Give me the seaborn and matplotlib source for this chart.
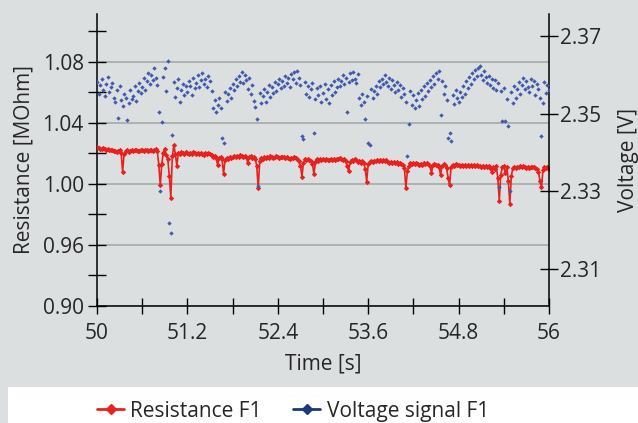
"""
Resistance and voltage signal of sensor F1 over a 6 s window.
"""

import numpy as np
import matplotlib
matplotlib.use("Agg")
import matplotlib.pyplot as plt
from matplotlib.lines import Line2D
from matplotlib.patches import Rectangle
import seaborn as sns

resistance_f1 = [
    1.0240, 1.0236, 1.0231, 1.0228, 1.0233, 1.0229, 1.0222, 1.0226, 1.0219, 1.0224,
    1.0221, 1.0214, 1.0218, 1.0210, 1.0215, 1.0222, 1.0205, 1.0080, 1.0198, 1.0216,
    1.0219, 1.0212, 1.0217, 1.0222, 1.0215, 1.0220, 1.0224, 1.0218, 1.0213, 1.0219,
    1.0222, 1.0217, 1.0225, 1.0219, 1.0214, 1.0220, 1.0223, 1.0216, 1.0221, 1.0226,
    1.0218, 1.0125, 0.9990, 1.0132, 1.0205, 1.0230, 1.0190, 1.0160, 1.0050, 0.9910,
    1.0180, 1.0255, 1.0195, 1.0120, 1.0205, 1.0198, 1.0210, 1.0203, 1.0196, 1.0207,
    1.0201, 1.0194, 1.0203, 1.0198, 1.0206, 1.0200, 1.0193, 1.0201, 1.0197, 1.0204,
    1.0199, 1.0192, 1.0201, 1.0196, 1.0203, 1.0198, 1.0190, 1.0178, 1.0185, 1.0172,
    1.0127, 1.0168, 1.0175, 1.0162, 1.0066, 1.0158, 1.0170, 1.0166, 1.0175, 1.0169,
    1.0177, 1.0181, 1.0174, 1.0183, 1.0178, 1.0186, 1.0180, 1.0175, 1.0184, 1.0179,
    1.0140, 1.0176, 1.0182, 1.0171, 1.0178, 1.0163, 1.0120, 0.9970, 1.0150, 1.0172,
    1.0165, 1.0174, 1.0168, 1.0177, 1.0171, 1.0180, 1.0174, 1.0168, 1.0176, 1.0181,
    1.0175, 1.0170, 1.0178, 1.0173, 1.0179, 1.0168, 1.0175, 1.0171, 1.0164, 1.0172,
    1.0167, 1.0174, 1.0169, 1.0160, 1.0148, 1.0120, 1.0046, 1.0135, 1.0162, 1.0155,
    1.0164, 1.0158, 1.0150, 1.0130, 1.0064, 1.0145, 1.0160, 1.0153, 1.0161, 1.0156,
    1.0163, 1.0157, 1.0165, 1.0159, 1.0154, 1.0162, 1.0156, 1.0164, 1.0158, 1.0166,
    1.0160, 1.0167, 1.0161, 1.0155, 1.0163, 1.0149, 1.0120, 1.0083, 1.0142, 1.0158,
    1.0152, 1.0160, 1.0154, 1.0146, 1.0152, 1.0140, 1.0147, 1.0135, 1.0100, 1.0015,
    1.0130, 1.0145, 1.0151, 1.0144, 1.0153, 1.0147, 1.0155, 1.0149, 1.0157, 1.0150,
    1.0156, 1.0148, 1.0154, 1.0146, 1.0139, 1.0145, 1.0137, 1.0143, 1.0135, 1.0141,
    1.0133, 1.0140, 1.0131, 1.0125, 1.0105, 0.9974, 1.0083, 1.0120, 1.0134, 1.0128,
    1.0135, 1.0129, 1.0137, 1.0131, 1.0126, 1.0133, 1.0127, 1.0134, 1.0129, 1.0136,
    1.0130, 1.0118, 1.0070, 1.0125, 1.0132, 1.0127, 1.0122, 1.0110, 1.0060, 1.0118,
    1.0128, 1.0121, 1.0105, 1.0040, 0.9990, 1.0110, 1.0126, 1.0120, 1.0128, 1.0122,
    1.0127, 1.0120, 1.0126, 1.0119, 1.0125, 1.0118, 1.0124, 1.0117, 1.0123, 1.0116,
    1.0122, 1.0115, 1.0121, 1.0114, 1.0120, 1.0113, 1.0119, 1.0112, 1.0118, 1.0111,
    1.0117, 1.0105, 1.0080, 1.0112, 1.0095, 1.0115, 1.0040, 0.9890, 1.0060, 1.0108,
    1.0114, 1.0070, 1.0110, 1.0020, 0.9870, 1.0050, 1.0105, 1.0112, 1.0106, 1.0113,
    1.0108, 1.0114, 1.0109, 1.0115, 1.0110, 1.0105, 1.0112, 1.0107, 1.0113, 1.0108,
    1.0113, 1.0107, 1.0100, 1.0080, 1.0020, 0.9978, 1.0090, 1.0110, 1.0104, 1.0111,
    1.0098,
]

voltage_f1 = [
    2.3582, 2.3549, 2.3573, 2.3588, 2.3561, 2.3545, 2.3577, 2.3593, 2.3556, 2.3568,
    2.3578, 2.3541, 2.3529, 2.3560, 2.3489, 2.3572, 2.3534, 2.3519, 2.3551, 2.3540,
    2.3483, 2.3527, 2.3561, 2.3538, 2.3546, 2.3570, 2.3531, 2.3559, 2.3578, 2.3552,
    2.3569, 2.3591, 2.3560, 2.3583, 2.3604, 2.3575, 2.3598, 2.3585, 2.3616, 2.3592,
    2.3573, 2.3505, 2.3301, 2.3479, 2.3595, 2.3616, 2.3558, 2.3634, 2.3218, 2.3194,
    2.3444, 2.3581, 2.3542, 2.3566, 2.3589, 2.3530, 2.3561, 2.3575, 2.3547, 2.3570,
    2.3556, 2.3584, 2.3571, 2.3548, 2.3592, 2.3565, 2.3579, 2.3599, 2.3569, 2.3587,
    2.3603, 2.3576, 2.3590, 2.3568, 2.3597, 2.3584, 2.3559, 2.3513, 2.3535, 2.3504,
    2.3522, 2.3539, 2.3515, 2.3436, 2.3423, 2.3556, 2.3531, 2.3549, 2.3566, 2.3541,
    2.3575, 2.3560, 2.3589, 2.3571, 2.3596, 2.3580, 2.3608, 2.3578, 2.3599, 2.3586,
    2.3562, 2.3591, 2.3550, 2.3574, 2.3533, 2.3518, 2.3487, 2.3313, 2.3552, 2.3526,
    2.3545, 2.3563, 2.3530, 2.3556, 2.3574, 2.3543, 2.3568, 2.3552, 2.3581, 2.3559,
    2.3575, 2.3590, 2.3566, 2.3584, 2.3571, 2.3597, 2.3578, 2.3592, 2.3569, 2.3601,
    2.3588, 2.3606, 2.3579, 2.3610, 2.3592, 2.3574, 2.3441, 2.3434, 2.3581, 2.3549,
    2.3570, 2.3543, 2.3562, 2.3578, 2.3449, 2.3537, 2.3566, 2.3548, 2.3571, 2.3529,
    2.3552, 2.3577, 2.3538, 2.3563, 2.3526, 2.3574, 2.3547, 2.3583, 2.3556, 2.3569,
    2.3590, 2.3571, 2.3583, 2.3598, 2.3576, 2.3592, 2.3504, 2.3581, 2.3603, 2.3587,
    2.3608, 2.3590, 2.3579, 2.3601, 2.3541, 2.3522, 2.3550, 2.3529, 2.3487, 2.3544,
    2.3425, 2.3418, 2.3563, 2.3540, 2.3557, 2.3572, 2.3551, 2.3583, 2.3569, 2.3590,
    2.3577, 2.3598, 2.3582, 2.3570, 2.3591, 2.3563, 2.3586, 2.3574, 2.3555, 2.3580,
    2.3560, 2.3573, 2.3542, 2.3566, 2.3551, 2.3529, 2.3390, 2.3474, 2.3558, 2.3523,
    2.3547, 2.3515, 2.3534, 2.3552, 2.3520, 2.3561, 2.3538, 2.3570, 2.3546, 2.3579,
    2.3558, 2.3585, 2.3567, 2.3596, 2.3577, 2.3604, 2.3588, 2.3610, 2.3497, 2.3583,
    2.3551, 2.3572, 2.3535, 2.3437, 2.3450, 2.3429, 2.3548, 2.3525, 2.3561, 2.3540,
    2.3529, 2.3555, 2.3543, 2.3571, 2.3550, 2.3583, 2.3566, 2.3595, 2.3575, 2.3604,
    2.3589, 2.3612, 2.3596, 2.3618, 2.3621, 2.3600, 2.3585, 2.3609, 2.3593, 2.3578,
    2.3597, 2.3574, 2.3590, 2.3566, 2.3585, 2.3561, 2.3579, 2.3312, 2.3558, 2.3480,
    2.3565, 2.3480, 2.3537, 2.3469, 2.3300, 2.3556, 2.3528, 2.3570, 2.3541, 2.3563,
    2.3582, 2.3550, 2.3574, 2.3591, 2.3562, 2.3583, 2.3568, 2.3556, 2.3589, 2.3571,
    2.3584, 2.3548, 2.3576, 2.3562, 2.3540, 2.3443, 2.3528, 2.3581, 2.3553, 2.3574,
    2.3561,
]

time_s = np.linspace(50, 56, len(resistance_f1))

x_ticks = [50, 51.2, 52.4, 53.6, 54.8, 56]
x_tick_labels = ["50", "51.2", "52.4", "53.6", "54.8", "56"]
x_minor = [50.6, 51.8, 53.0, 54.2, 55.4]

# left axis: labels as printed on the original chart (evenly spaced)
r_ticks = [0.92, 0.96, 1.00, 1.04, 1.08]
r_tick_labels = ["0.90", "0.96", "1.00", "1.04", "1.08"]
r_minor = [0.94, 0.98, 1.02, 1.06, 1.10]

v_ticks = [2.31, 2.33, 2.35, 2.37]
v_tick_labels = ["2.31", "2.33", "2.35", "2.37"]

RED = "#e8211d"
BLUE = "#4059ad"
NAVY = "#1b3a78"
BG = "#dcdfe0"

sns.set_theme(style="white")
plt.rcParams["font.family"] = ["Open Sans", "DejaVu Sans"]
plt.rcParams["font.size"] = 15

fig = plt.figure(figsize=(6.38, 4.23), dpi=100, facecolor=BG)
fig.patches.append(Rectangle((8 / 638, 0), 1, 36 / 423, transform=fig.transFigure,
                             facecolor="white", edgecolor="none", zorder=0))

ax = fig.add_axes([97 / 638, 1 - 306 / 423, 452 / 638, 292 / 423])
ax.set_facecolor(BG)
ax2 = ax.twinx()
ax2.set_facecolor("none")

# resistance on the left axis
sns.lineplot(x=time_s, y=resistance_f1, ax=ax, color=RED, linewidth=1.2,
             marker="D", markersize=2.8, markeredgewidth=0, zorder=3)

# voltage on the right axis, points only
sns.scatterplot(x=time_s, y=voltage_f1, ax=ax2, color=BLUE, marker="D",
                s=5, linewidth=0, zorder=4)

ax.set_xlim(50, 56)
ax.set_ylim(0.92, 1.1113)
ax2.set_ylim(2.3005, 2.3756)

ax.set_xticks(x_ticks)
ax.set_xticklabels(x_tick_labels)
ax.set_xticks(x_minor, minor=True)
ax.set_yticks(r_ticks)
ax.set_yticklabels(r_tick_labels)
ax.set_yticks(r_minor, minor=True)
ax2.set_yticks(v_ticks)
ax2.set_yticklabels(v_tick_labels)

ax.grid(True, axis="y", which="major", color="#a8a8a8", linewidth=1.2)
ax.grid(False, axis="x")

for spine in ["top", "right"]:
    ax.spines[spine].set_visible(False)
for spine in ["top", "left", "bottom"]:
    ax2.spines[spine].set_visible(False)
for sp in [ax.spines["left"], ax.spines["bottom"], ax2.spines["right"]]:
    sp.set_color("black")
    sp.set_linewidth(1.1)

ax.tick_params(axis="y", which="both", direction="inout", length=13, width=1.0,
               color="black", pad=3, labelsize=15, left=True)
ax.tick_params(axis="x", which="both", direction="inout", length=11.5, width=1.0,
               color="black", pad=6.5, labelsize=15, bottom=True)
ax2.tick_params(axis="y", which="both", direction="inout", length=13, width=1.0,
                color="black", pad=1.5, labelsize=15, right=True)

ax.set_xlabel("Time [s]", fontsize=15, labelpad=7)
ax.set_ylabel("Resistance [MOhm]", fontsize=15, labelpad=6)
ax2.set_ylabel("Voltage [V]", fontsize=15, labelpad=12)

handles = [
    Line2D([], [], color=RED, linewidth=2, marker="D", markersize=5),
    Line2D([], [], color=NAVY, linewidth=2, marker="D", markersize=5),
]
fig.legend(handles, ["Resistance F1", "Voltage signal F1"], loc="center",
           bbox_to_anchor=(293 / 638, 1 - 411 / 423), ncol=2, frameon=False,
           fontsize=15, handlelength=1.3, handletextpad=0.3, columnspacing=1.5,
           borderaxespad=0, borderpad=0)

fig.savefig("out.png", dpi=100, facecolor=BG)
plt.close(fig)
